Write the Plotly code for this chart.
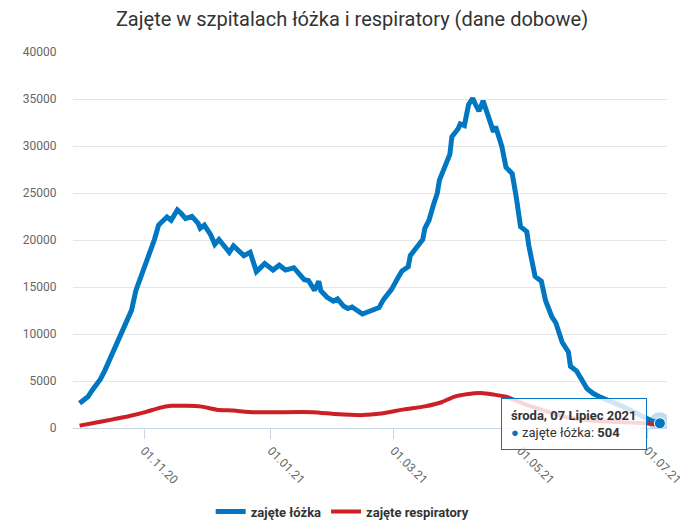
import plotly.graph_objects as go

# --- Data (Poland, COVID hospital occupancy) ---
beds_dates = [
    "2020-10-01", "2020-10-05", "2020-10-07", "2020-10-11", "2020-10-13", "2020-10-17",
    "2020-10-20", "2020-10-24", "2020-10-26", "2020-10-28", "2020-10-31", "2020-11-04",
    "2020-11-06", "2020-11-08", "2020-11-12", "2020-11-14", "2020-11-17", "2020-11-19",
    "2020-11-21", "2020-11-24", "2020-11-27", "2020-11-28", "2020-11-30", "2020-12-03",
    "2020-12-05", "2020-12-07", "2020-12-10", "2020-12-12", "2020-12-14", "2020-12-19",
    "2020-12-22", "2020-12-25", "2020-12-29", "2021-01-02", "2021-01-05", "2021-01-08",
    "2021-01-12", "2021-01-17", "2021-01-19", "2021-01-22", "2021-01-24", "2021-01-25",
    "2021-01-28", "2021-01-31", "2021-02-02", "2021-02-05", "2021-02-07", "2021-02-09",
    "2021-02-14", "2021-02-17", "2021-02-22", "2021-02-24", "2021-02-28", "2021-03-03",
    "2021-03-05", "2021-03-08", "2021-03-09", "2021-03-12", "2021-03-15", "2021-03-16",
    "2021-03-18", "2021-03-20", "2021-03-22", "2021-03-23", "2021-03-25", "2021-03-28",
    "2021-03-29", "2021-04-01", "2021-04-02", "2021-04-04", "2021-04-06", "2021-04-08",
    "2021-04-09", "2021-04-11", "2021-04-13", "2021-04-15", "2021-04-16", "2021-04-18",
    "2021-04-19", "2021-04-22", "2021-04-24", "2021-04-27", "2021-04-29", "2021-05-01",
    "2021-05-04", "2021-05-05", "2021-05-08", "2021-05-11", "2021-05-13", "2021-05-16",
    "2021-05-18", "2021-05-21", "2021-05-24", "2021-05-25", "2021-05-28", "2021-05-30",
    "2021-06-02", "2021-06-05", "2021-06-08", "2021-06-19", "2021-06-28", "2021-07-03",
    "2021-07-07",
]
beds = [
    2630, 3320, 4000, 5190, 6050, 8100,
    9470, 11680, 12540, 14590, 16290, 18850,
    20050, 21590, 22440, 22100, 23200, 22790,
    22280, 22510, 21760, 21250, 21590, 20560,
    19540, 20050, 19200, 18690, 19370, 18340,
    18690, 16640, 17490, 16800, 17320, 16800,
    17050, 15780, 15700, 14650, 15620, 14590,
    13900, 13490, 13730, 12950, 12710, 12880,
    12130, 12370, 12810, 13630, 14750, 15950,
    16700, 17150, 18340, 19200, 20050, 21250,
    22100, 23640, 25000, 26370, 27560, 29100,
    30980, 31830, 32350, 32170, 34400, 35080,
    34570, 33710, 34800, 33550, 32860, 31500,
    32070, 29960, 27740, 27050, 24490, 21410,
    20900, 19370, 16130, 15620, 13570, 11860,
    11170, 9120, 8100, 6560, 6050, 5200,
    4170, 3660, 3320, 2300, 1270, 760,
    504,
]

vent_dates = [
    "2020-10-01", "2020-10-09", "2020-10-17", "2020-10-25", "2020-11-02", "2020-11-08",
    "2020-11-14", "2020-11-21", "2020-11-28", "2020-12-06", "2020-12-14", "2020-12-24",
    "2021-01-21", "2021-02-01", "2021-02-14", "2021-02-23", "2021-03-06", "2021-03-16",
    "2021-03-24", "2021-03-30", "2021-04-05", "2021-04-12", "2021-04-18", "2021-04-24",
    "2021-05-02", "2021-05-11", "2021-05-21", "2021-06-05", "2021-06-28", "2021-07-07",
]
vent = [
    250, 580, 920, 1270, 1710, 2120,
    2360, 2360, 2300, 1950, 1850, 1680,
    1680, 1480, 1370, 1540, 1980, 2300,
    2740, 3320, 3590, 3730, 3560, 3320,
    2630, 1950, 1250, 760, 520, 330,
]

x_tick_dates = ["2020-11-01", "2021-01-01", "2021-03-01", "2021-05-01", "2021-07-01"]
x_tick_labels = ["01.11.20", "01.01.21", "01.03.21", "01.05.21", "01.07.21"]
y_ticks = [0, 5000, 10000, 15000, 20000, 25000, 30000, 35000, 40000]
y_tick_labels = [str(v) for v in y_ticks]

tooltip_date = "środa, 07 Lipiec 2021"

BLUE = "#0077c0"
RED = "#cc1f26"
FONT = "Roboto"

fig = go.Figure()
fig.add_scatter(x=beds_dates, y=beds, name="zajęte łóżka", mode="lines",
                line=dict(color=BLUE, width=5))
fig.add_scatter(x=vent_dates, y=vent, name="zajęte respiratory", mode="lines",
                line=dict(color=RED, width=4, shape="spline", smoothing=0.6))

# hovered point (last value of beds) with halo
fig.add_scatter(x=[beds_dates[-1]], y=[beds[-1]], mode="markers", showlegend=False,
                marker=dict(size=22, color="rgba(0,119,192,0.25)"), hoverinfo="skip")
fig.add_scatter(x=[beds_dates[-1]], y=[beds[-1]], mode="markers", showlegend=False,
                marker=dict(size=11, color=BLUE, line=dict(color="white", width=1)),
                hoverinfo="skip")

# static tooltip box
fig.add_annotation(
    xref="paper", yref="paper", x=0.721, y=0.079, xanchor="left", yanchor="top",
    text=(f"<b>{tooltip_date}</b><br>"
          f"<span style='color:{BLUE}'>●</span> zajęte łóżka: <b>{beds[-1]}</b>"),
    showarrow=False, align="left",
    font=dict(family=FONT, size=13, color="#333333"),
    bgcolor="rgba(255,255,255,0.82)", bordercolor=BLUE, borderwidth=1, borderpad=9,
)

fig.update_layout(
    width=688, height=530,
    margin=dict(l=65, r=24, t=44, b=94),
    paper_bgcolor="white", plot_bgcolor="white",
    font=dict(family=FONT, color="#666666", size=12),
    title=dict(text="Zajęte w szpitalach łóżka i respiratory (dane dobowe)",
               x=0.5, xref="container", xanchor="center",
               y=1 - 11 / 530, yanchor="middle",
               font=dict(family=FONT, size=20, color="#333333")),
    showlegend=True,
    legend=dict(orientation="h", x=0.454, xanchor="center", y=-0.222, yanchor="middle",
                font=dict(family=FONT, size=13, color="#333333", weight="bold"),
                itemwidth=30),
    hovermode=False,
)

fig.update_xaxes(
    type="date", range=["2020-09-27 20:00", "2021-07-10 10:00"],
    tickvals=x_tick_dates, ticktext=x_tick_labels, tickangle=45,
    showgrid=False, showline=True, linecolor="#ccd6eb", linewidth=1,
    ticks="outside", ticklen=10, tickcolor="#ccd6eb",
    tickfont=dict(family=FONT, size=12, color="#666666"),
    zeroline=False,
)
fig.update_yaxes(
    range=[0, 40000], tickvals=y_ticks, ticktext=y_tick_labels,
    showgrid=True, gridcolor="#e6e6e6", gridwidth=1,
    zeroline=False, showline=False,
    ticks="outside", ticklen=13, tickcolor="rgba(0,0,0,0)",
    tickfont=dict(family=FONT, size=12, color="#666666"),
)

fig.write_html("out.html")
